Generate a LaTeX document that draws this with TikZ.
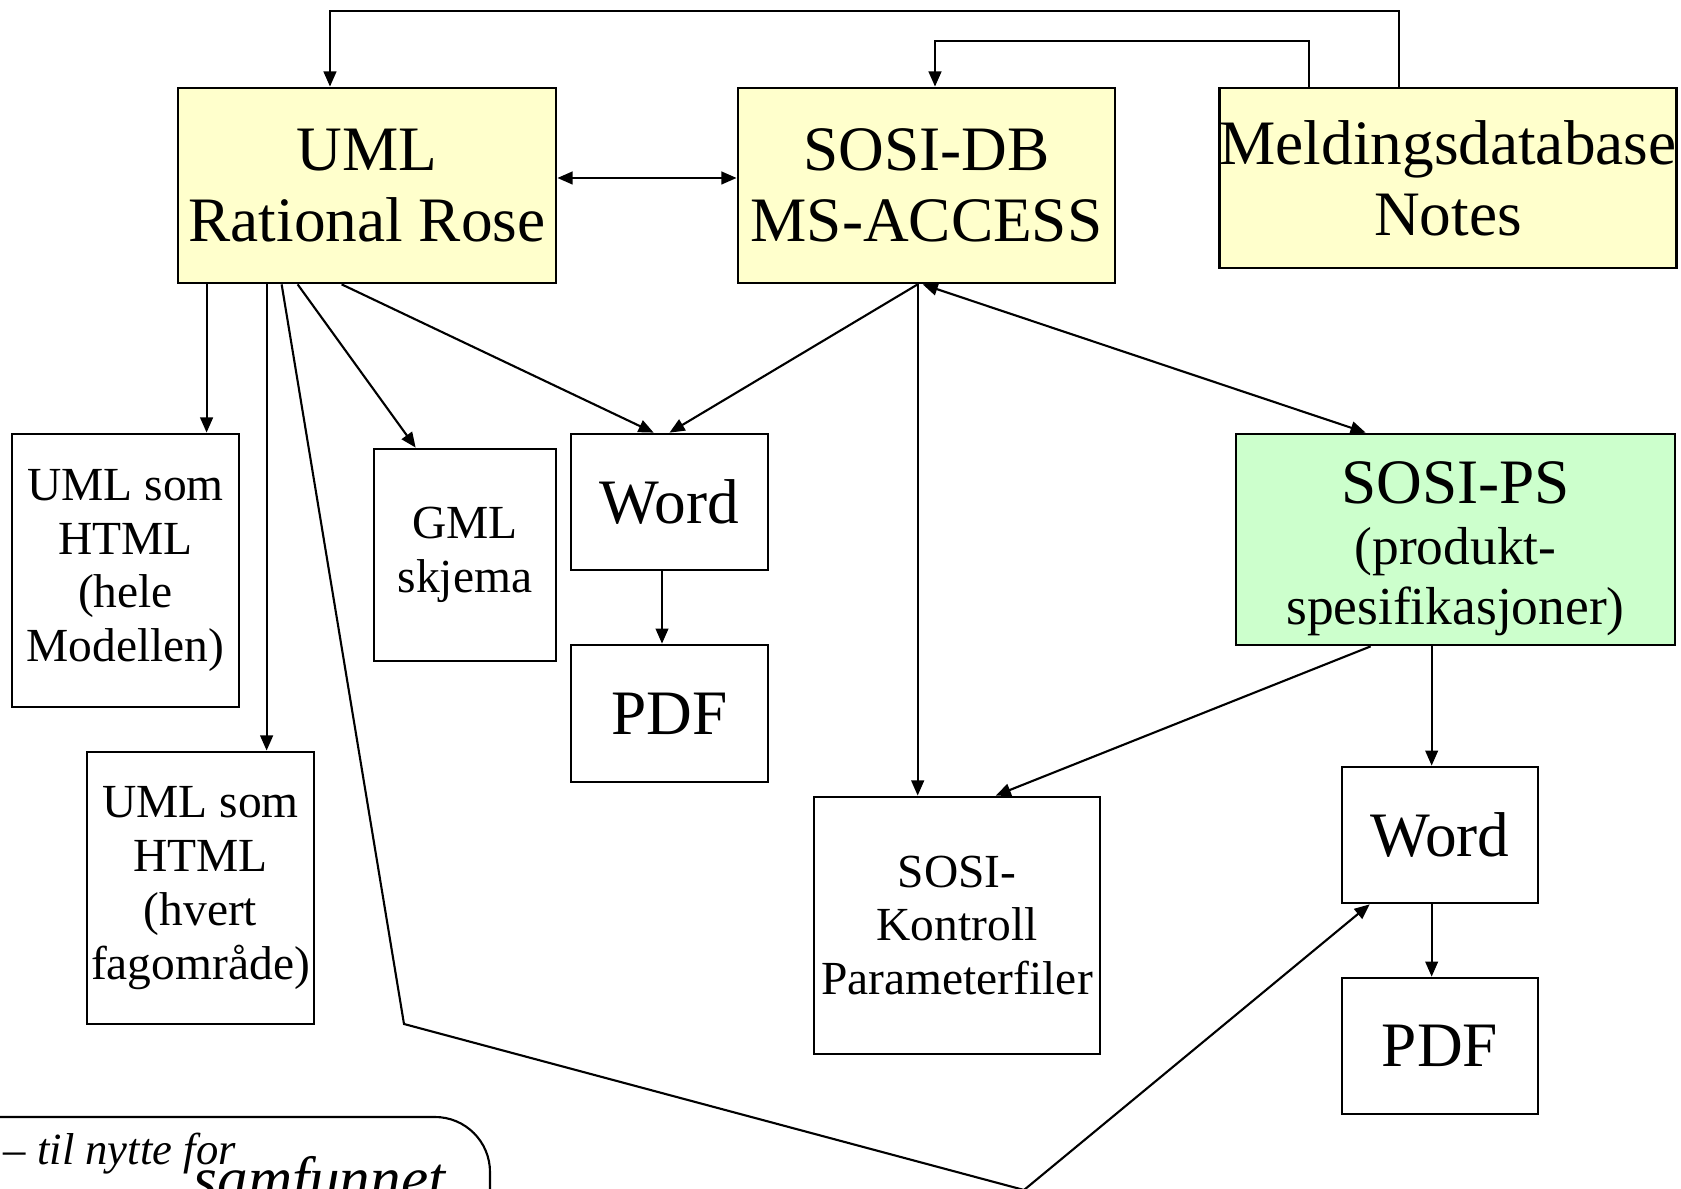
\documentclass[tikz,border=0pt]{standalone}
\usepackage{fontspec}
\setmainfont{Liberation Serif}
\usetikzlibrary{arrows.meta}
\definecolor{gul}{HTML}{FFFFCC}
\definecolor{gronn}{HTML}{CCFFCC}
\newcommand\storfont{\fontsize{18}{15}\selectfont}

\begin{document}
\begin{tikzpicture}[x=0.01cm,y=-0.01cm]

\tikzstyle{boks}=[rectangle,draw,line width=0.75pt,inner sep=0pt,align=center]
\tikzstyle{stor}=[font=\fontsize{18}{20.2}\selectfont]
\tikzstyle{mellom}=[font=\fontsize{15.2}{14.7}\selectfont]
\tikzstyle{liten}=[font=\fontsize{13.5}{15.3}\selectfont]
\tikzstyle{pil}=[line width=0.6pt,-{Triangle[length=4.3pt,width=3.6pt]}]
\tikzstyle{dpil}=[line width=0.6pt,{Triangle[length=4.3pt,width=3.6pt]}-{Triangle[length=4.3pt,width=3.6pt]}]

\clip (0,0) rectangle (1681,1189);

\node (uml) at (367,185.5) [boks,stor,fill=gul,minimum width=3.78cm,minimum height=1.95cm] {UML\\Rational Rose};
\node (sosidb) at (926.5,185.5) [boks,stor,fill=gul,minimum width=3.77cm,minimum height=1.95cm] {SOSI-DB\\MS-ACCESS};
\node (meld) at (1448,178) [boks,stor,fill=gul,minimum width=4.54cm,minimum height=1.80cm] {Meldingsdatabase\\Notes};

\node (htmlall) at (125.5,570.5) [boks,liten,minimum width=2.27cm,minimum height=2.73cm] {UML som\\HTML\\(hele\\Modellen)};
\node (gml) at (465,555) [boks,liten,minimum width=1.82cm,minimum height=2.12cm] {GML\\skjema};
\node (word1) at (669.5,502) [boks,stor,minimum width=1.97cm,minimum height=1.36cm] {Word};
\node (pdf1) at (669.5,713.5) [boks,stor,minimum width=1.97cm,minimum height=1.37cm] {PDF};
\node (htmlfag) at (200.5,888) [boks,liten,minimum width=2.27cm,minimum height=2.72cm] {UML som\\HTML\\(hvert\\fagområde)};

\node (sosips) at (1455.5,539.5) [boks,mellom,fill=gronn,minimum width=4.39cm,minimum height=2.11cm] {{\storfont\rule{0pt}{17pt}SOSI-PS}\\[2.6pt](produkt-\\[2.4pt]spesifikasjoner)};
\node (kontroll) at (957,925.5) [boks,liten,minimum width=2.86cm,minimum height=2.57cm] {SOSI-\\Kontroll\\Parameterfiler};
\node (word2) at (1440,835) [boks,stor,minimum width=1.96cm,minimum height=1.36cm] {Word};
\node (pdf2) at (1440,1046) [boks,stor,minimum width=1.96cm,minimum height=1.36cm] {PDF};

\coordinate (u0) at ([xshift=-0.37cm]uml.north);
\coordinate (u1) at ([xshift=0.30cm]uml.south west);
\coordinate (u2) at ([xshift=0.90cm]uml.south west);
\coordinate (u3) at ([xshift=1.05cm]uml.south west);
\coordinate (u4) at ([xshift=1.21cm]uml.south west);
\coordinate (u5) at ([xshift=1.65cm]uml.south west);
\coordinate (h1) at ([yshift=0.075cm]uml.east);
\coordinate (w1) at ([xshift=-0.075cm]word1.south);
\coordinate (s1) at ([xshift=1.81cm]sosidb.south west);
\coordinate (s2) at ([xshift=1.86cm]sosidb.south west);
\coordinate (s3) at ([xshift=0.085cm]sosidb.north);
\coordinate (m1) at ([xshift=0.91cm]meld.north west);
\coordinate (m2) at ([xshift=1.81cm]meld.north west);
\coordinate (p1) at ([xshift=1.36cm]sosips.south west);
\coordinate (p2) at ([xshift=1.97cm]sosips.south west);
\coordinate (knekk1) at (404,1024);
\coordinate (knekk2) at (1024,1190);

\draw[pil] (m2) -- ++(0,-76) -| (u0);
\draw[pil] (m1) -- ++(0,-46) -| (s3);
\draw[dpil] (h1) -- (h1 -| sosidb.west);

\draw[pil] (u1) -- (u1 |- htmlall.north);
\draw[pil] (u2) -- (u2 |- htmlfag.north);
\draw[pil] (u3) -- (knekk1) -- (knekk2) -- ([xshift=0.29cm]word2.south west);
\draw[pil] (u4) -- ([xshift=0.43cm]gml.north west);
\draw[pil] (u5) -- ([xshift=0.84cm]word1.north west);
\draw[pil] (w1) -- (w1 |- pdf1.north);

\draw[pil] (s1) -- (word1.north);
\draw[pil] (s1) -- (s1 |- kontroll.north);
\draw[dpil] (s2) -- ([xshift=1.31cm]sosips.north west);

\draw[pil] (p1) -- ([xshift=1.83cm]kontroll.north west);
\draw[pil] (p2) -- (p2 |- word2.north);
\draw[pil] (p2 |- word2.south) -- (p2 |- pdf2.north);

\draw[line width=0.6pt,rounded corners=0.55cm] (-60,1117) -- (490,1117) -- (490,1300);
\node (nytte) at (3,1165) [anchor=base west,inner sep=0pt,font=\itshape\fontsize{12.7}{14}\selectfont] {– til nytte for};
\node (samfunnet) at (193,1200) [anchor=base west,inner sep=0pt,font=\itshape\fontsize{17.4}{19}\selectfont] {samfunnet};

\end{tikzpicture}
\end{document}
